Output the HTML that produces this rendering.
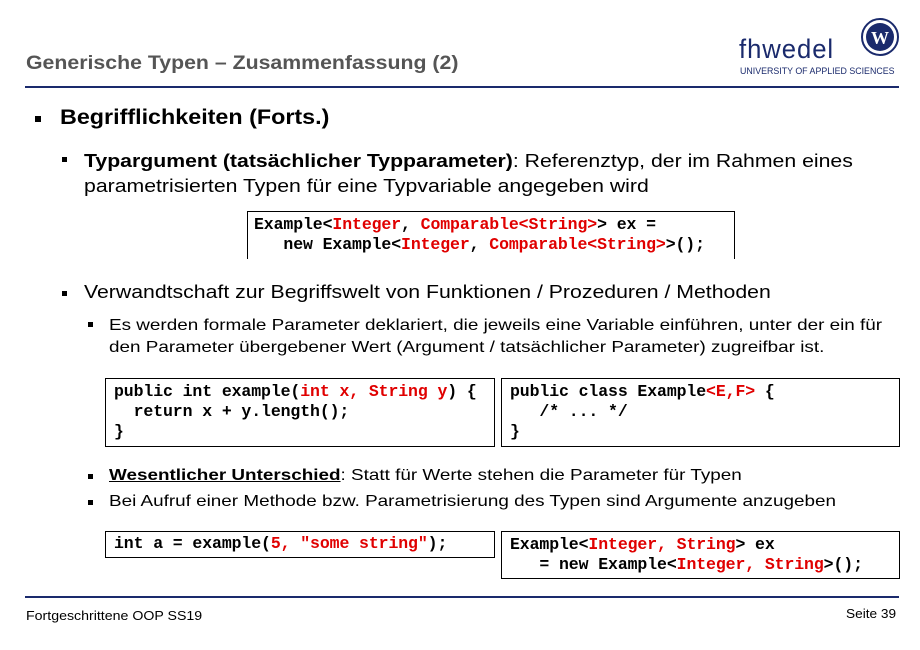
<!DOCTYPE html>
<html><head><meta charset="utf-8"><style>
body{margin:0;width:920px;height:650px;background:#fff;position:relative;overflow:hidden;font-family:"Liberation Sans",Arial,sans-serif;color:#000}
.a{position:absolute;white-space:nowrap;transform-origin:0 0}
.s18{transform:scaleX(1.18)}
.code{position:absolute;border:1px solid #000;font-family:"Liberation Mono",monospace;font-weight:bold;font-size:16.5px;line-height:20px;padding:3px 8px 0 8px;box-sizing:border-box;white-space:pre;letter-spacing:-0.1px}
.r{color:#e00000}
.b{position:absolute;width:6px;height:6px;background:#000}
</style></head><body>
<div class="a" style="left:26px;top:53px;font-size:19px;font-weight:bold;color:#555;transform:scaleX(1.12)">Generische Typen – Zusammenfassung (2)</div>
<div class="a" style="left:739px;top:34px;font-size:27px;color:#1a2a6c;letter-spacing:1px;transform:scaleX(0.95)">fhwedel</div>
<svg class="a" style="left:860px;top:17px" width="40" height="40"><circle cx="20" cy="20" r="18" fill="#fff" stroke="#1a2a6c" stroke-width="2"/><circle cx="20" cy="20" r="14" fill="#1a2a6c"/><text x="20" y="27" font-size="18" font-weight="bold" fill="#fff" text-anchor="middle" font-family="Liberation Serif">W</text></svg>
<div class="a" style="left:740px;top:66px;font-size:9.5px;color:#1a2a6c;transform:scaleX(0.93)">UNIVERSITY OF APPLIED SCIENCES</div>
<div class="a" style="left:25px;top:86px;width:874px;height:2px;background:#1a2a6c"></div>

<div class="b" style="left:35px;top:116px"></div>
<div class="a" style="left:60px;top:106px;font-size:21px;font-weight:bold;transform:scaleX(1.11)">Begrifflichkeiten (Forts.)</div>

<div class="b" style="left:62px;top:157px;width:5px;height:5px"></div>
<div class="a s18" style="left:84px;top:149px;font-size:18px;line-height:25px"><b>Typargument (tatsächlicher Typparameter)</b>: Referenztyp, der im Rahmen eines<br>parametrisierten Typen für eine Typvariable angegeben wird</div>

<div class="code" style="left:247px;top:211px;width:488px;height:48px;border-bottom:none;padding-left:6px">Example&lt;<span class="r">Integer</span>, <span class="r">Comparable&lt;String&gt;</span>&gt; ex =
   new Example&lt;<span class="r">Integer</span>, <span class="r">Comparable&lt;String&gt;</span>&gt;();</div>

<div class="b" style="left:62px;top:291px;width:5px;height:5px"></div>
<div class="a s18" style="left:84px;top:282px;font-size:18px">Verwandtschaft zur Begriffswelt von Funktionen / Prozeduren / Methoden</div>

<div class="b" style="left:88px;top:322px;width:5px;height:5px"></div>
<div class="a s18" style="left:109px;top:315px;font-size:16px;line-height:22px">Es werden formale Parameter deklariert, die jeweils eine Variable einführen, unter der ein für<br>den Parameter übergebener Wert (Argument / tatsächlicher Parameter) zugreifbar ist.</div>

<div class="code" style="left:105px;top:378px;width:390px;height:69px">public int example(<span class="r">int x, String y</span>) {
  return x + y.length();
}</div>
<div class="code" style="left:501px;top:378px;width:399px;height:69px">public class Example<span class="r">&lt;E,F&gt;</span> {
   /* ... */
}</div>

<div class="b" style="left:88px;top:474px;width:5px;height:5px"></div>
<div class="a s18" style="left:109px;top:467px;font-size:16px"><b><u>Wesentlicher Unterschied</u></b>: Statt für Werte stehen die Parameter für Typen</div>
<div class="b" style="left:88px;top:500px;width:5px;height:5px"></div>
<div class="a s18" style="left:109px;top:493px;font-size:16px">Bei Aufruf einer Methode bzw. Parametrisierung des Typen sind Argumente anzugeben</div>

<div class="code" style="left:105px;top:531px;width:390px;height:27px;padding-top:2px">int a = example(<span class="r">5, "some string"</span>);</div>
<div class="code" style="left:501px;top:531px;width:399px;height:48px">Example&lt;<span class="r">Integer, String</span>&gt; ex
   = new Example&lt;<span class="r">Integer, String</span>&gt;();</div>

<div class="a" style="left:25px;top:596px;width:874px;height:2px;background:#1a2a6c"></div>
<div class="a" style="left:26px;top:608px;font-size:13px;transform:scaleX(1.09)">Fortgeschrittene OOP SS19</div>
<div class="a" style="left:846px;top:606px;font-size:13px;transform:scaleX(1.05)">Seite 39</div>
</body></html>
